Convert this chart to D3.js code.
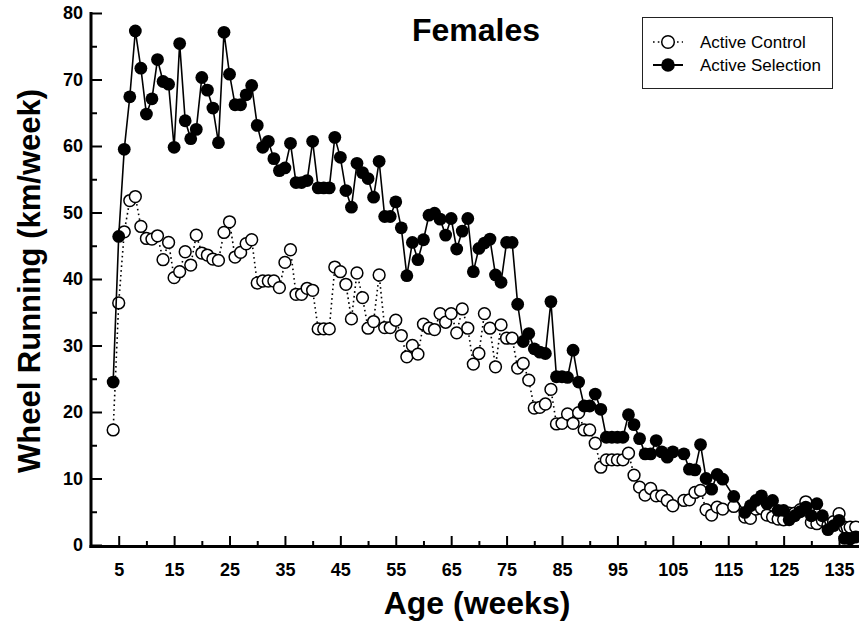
<!DOCTYPE html>
<html><head><meta charset="utf-8">
<script src="https://cdn.jsdelivr.net/npm/d3@7"></script>
<style>
html,body{margin:0;padding:0;background:#fff;}
svg{display:block;font-family:"Liberation Sans",Arial,sans-serif;}
</style></head>
<body><svg id="chart" width="859" height="627"></svg>
<script>
const weeks = [4,5,6,7,8,9,10,11,12,13,14,15,16,17,18,19,20,21,22,23,24,25,26,27,28,29,30,31,32,33,34,35,36,37,38,39,40,41,42,43,44,45,46,47,48,49,50,51,52,53,54,55,56,57,58,59,60,61,62,63,64,65,66,67,68,69,70,71,72,73,74,75,76,77,78,79,80,81,82,83,84,85,86,87,88,89,90,91,92,93,94,95,96,97,98,99,100,101,102,103,104,105,107,108,109,110,111,112,113,114,116,118,119,120,121,122,123,124,125,126,127,128,129,130,131,132,133,134,135,136,137,138];

const activeSelection = [24.5,46.4,59.5,67.4,77.3,71.7,64.8,67.1,73.0,69.7,69.3,59.8,75.4,63.8,61.1,62.5,70.3,68.4,65.7,60.5,77.1,70.8,66.2,66.2,67.7,69.1,63.1,59.8,60.7,58.1,56.3,56.7,60.4,54.5,54.5,54.8,60.7,53.7,53.7,53.7,61.3,58.3,53.3,50.8,57.4,56.0,55.1,52.3,57.7,49.4,49.4,51.6,47.7,40.5,45.5,42.9,45.9,49.6,49.9,49.0,46.6,49.1,44.5,47.2,49.1,41.1,44.6,45.4,46.0,40.6,39.5,45.5,45.5,36.2,30.6,31.8,29.5,29.0,28.8,36.6,25.3,25.3,25.2,29.3,24.5,20.9,20.9,22.7,20.4,16.2,16.2,16.2,16.2,19.6,18.1,16.0,13.7,13.7,15.7,14.0,13.2,14.0,13.7,11.4,11.3,15.1,10.0,8.4,10.6,9.9,7.3,4.9,5.9,6.7,7.4,6.2,6.7,5.2,5.2,3.8,4.4,5.0,5.7,4.4,6.2,4.4,2.3,2.9,3.7,1.0,0.9,1.2];

const activeControl = [17.3,36.4,47.1,51.8,52.4,47.9,46.1,46.0,46.5,42.9,45.5,40.2,41.1,44.1,42.1,46.6,43.9,43.6,43.0,42.8,47.0,48.6,43.3,44.0,45.3,45.9,39.4,39.7,39.7,39.7,38.7,42.5,44.4,37.7,37.7,38.6,38.3,32.5,32.5,32.5,41.8,41.1,39.2,34.0,40.9,37.2,32.6,33.6,40.6,32.7,32.7,33.8,31.5,28.3,30.0,28.7,33.2,32.6,32.4,34.8,33.5,34.8,31.9,35.5,32.6,27.2,28.8,34.8,32.6,26.8,33.1,31.1,31.1,26.6,27.3,24.8,20.6,20.7,21.2,23.4,18.2,18.3,19.7,18.3,19.9,17.3,17.3,15.3,11.7,12.8,12.8,12.8,12.8,13.8,10.5,8.7,7.5,8.5,7.4,7.4,6.7,5.9,6.7,6.8,7.9,8.2,5.3,4.5,5.7,5.4,5.8,4.2,4.0,5.4,5.5,4.5,4.2,3.9,3.8,4.8,4.8,5.3,6.5,3.4,3.2,3.7,3.0,3.5,4.7,2.7,2.7,2.7];

const xTickLabels = [5,15,25,35,45,55,65,75,85,95,105,115,125,135];
const xMinorTicks = [10,20,30,40,50,60,70,80,90,100,110,120,130];
const yTickLabels = [0,10,20,30,40,50,60,70,80];
const yMinorTicks = [5,15,25,35,45,55,65,75];
const seriesNames = ["Active Control","Active Selection"];

const svg = d3.select("#chart");
const x = d3.scaleLinear().domain([0,138.6]).range([91,859]);
const y = d3.scaleLinear().domain([0,80]).range([545,13]);

// axes
const xMajor = d3.axisBottom(x).tickValues(xTickLabels).tickSizeInner(-10).tickSizeOuter(0).tickPadding(17).tickFormat(d3.format("d"));
const xMinor = d3.axisBottom(x).tickValues(xMinorTicks).tickSizeInner(-5).tickSizeOuter(0).tickFormat("");
const yMajor = d3.axisLeft(y).tickValues(yTickLabels).tickSizeInner(-11).tickSizeOuter(0).tickPadding(8).tickFormat(d3.format("d"));
const yMinor = d3.axisLeft(y).tickValues(yMinorTicks).tickSizeInner(-6).tickSizeOuter(0).tickFormat("");

function styleAxis(g){
  g.select(".domain").remove();
  g.selectAll(".tick line").attr("stroke","#000").attr("stroke-width",2);
  g.selectAll(".tick text").attr("fill","#000").style("font-size","18px").style("font-weight","bold").style("font-family","'Liberation Sans',Arial,sans-serif");
}
svg.append("g").attr("transform","translate(0,546)").call(xMajor).call(styleAxis);
svg.append("g").attr("transform","translate(0,546)").call(xMinor).call(styleAxis);
const gy = svg.append("g").attr("transform","translate(91,0)").call(yMajor).call(styleAxis);
svg.append("g").attr("transform","translate(91,0)").call(yMinor).call(styleAxis);
gy.selectAll(".tick text").attr("text-anchor","end");

// axis lines
svg.append("line").attr("x1",91).attr("x2",91).attr("y1",12).attr("y2",548).attr("stroke","#000").attr("stroke-width",3);
svg.append("line").attr("x1",89.5).attr("x2",859).attr("y1",546.5).attr("y2",546.5).attr("stroke","#000").attr("stroke-width",3);

const ctrl = weeks.map((w,i)=>({w, v: activeControl[i]}));
const sel = weeks.map((w,i)=>({w, v: activeSelection[i]}));
const line = d3.line().x(d=>x(d.w)).y(d=>y(d.v));

// control series (open, dotted)
svg.append("path").datum(ctrl).attr("d",line).attr("fill","none").attr("stroke","#000").attr("stroke-width",1.6).attr("stroke-dasharray","1.6,3.2");
svg.append("g").selectAll("circle").data(ctrl).join("circle")
  .attr("cx",d=>x(d.w)).attr("cy",d=>y(d.v)).attr("r",5.9)
  .attr("fill","#fff").attr("stroke","#000").attr("stroke-width",1.5);

// selection series (filled, solid)
svg.append("path").datum(sel).attr("d",line).attr("fill","none").attr("stroke","#000").attr("stroke-width",1.6);
svg.append("g").selectAll("circle").data(sel).join("circle")
  .attr("cx",d=>x(d.w)).attr("cy",d=>y(d.v)).attr("r",6.4)
  .attr("fill","#000");

// titles
svg.append("text").attr("x",476).attr("y",41).attr("text-anchor","middle")
  .style("font-size","32px").style("font-weight","bold").text("Females");
svg.append("text").attr("transform","translate(40,281) rotate(-90)").attr("text-anchor","middle")
  .style("font-size","31px").style("font-weight","bold").text("Wheel Running (km/week)");
svg.append("text").attr("x",477).attr("y",614).attr("text-anchor","middle")
  .style("font-size","32px").style("font-weight","bold").text("Age (weeks)");

// legend
const lg = svg.append("g");
lg.append("rect").attr("x",642.5).attr("y",17.5).attr("width",190).attr("height",71)
  .attr("fill","#fff").attr("stroke","#222").attr("stroke-width",1);
lg.append("line").attr("x1",653).attr("x2",683).attr("y1",42).attr("y2",42).attr("stroke","#000").attr("stroke-width",1.6).attr("stroke-dasharray","1.6,3.2");
lg.append("circle").attr("cx",668).attr("cy",42).attr("r",6.3).attr("fill","#fff").attr("stroke","#000").attr("stroke-width",1.5);
lg.append("line").attr("x1",653).attr("x2",683).attr("y1",65).attr("y2",65).attr("stroke","#000").attr("stroke-width",2);
lg.append("circle").attr("cx",668).attr("cy",65).attr("r",6.8).attr("fill","#000");
lg.append("text").attr("x",700).attr("y",48).style("font-size","17px").text(seriesNames[0]);
lg.append("text").attr("x",700).attr("y",71).style("font-size","17px").text(seriesNames[1]);
</script>
</body></html>
